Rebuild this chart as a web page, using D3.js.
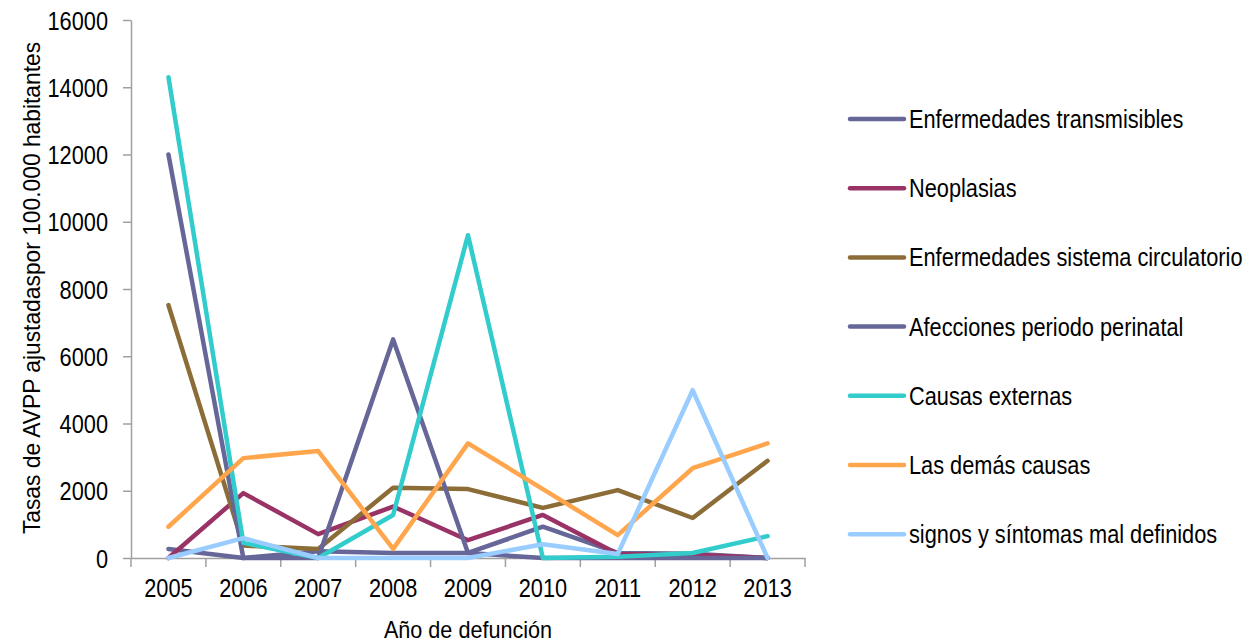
<!DOCTYPE html>
<html><head><meta charset="utf-8">
<script src="https://cdn.jsdelivr.net/npm/d3@7/dist/d3.min.js"></script>
<style>
body{margin:0;background:#fff;}
text{font-family:"Liberation Sans",Arial,sans-serif;fill:#000;}
</style></head><body>
<svg id="c" width="1260" height="643"></svg>
<script>
const years = ["2005","2006","2007","2008","2009","2010","2011","2012","2013"];
const yTicks = [0,2000,4000,6000,8000,10000,12000,14000,16000];
const seriesNames = ["Enfermedades transmisibles","Neoplasias","Enfermedades sistema circulatorio","Afecciones periodo perinatal","Causas externas","Las demás causas","signos y síntomas mal definidos"];
const seriesColors = ["#666699","#993366","#8C6D38","#666699","#33CCCC","#FFA64D","#99CCFF"];
const transmisibles = [270,0,200,150,150,930,150,130,0];
const neoplasias = [0,1930,710,1530,530,1280,120,100,0];
const circulatorio = [7520,370,270,2090,2050,1490,2020,1190,2890];
const perinatal = [12000,0,0,6500,150,0,0,0,0];
const externas = [14300,450,0,1280,9600,0,40,150,650];
const demas = [930,2970,3180,270,3410,2050,680,2670,3410];
const signos = [0,590,0,0,0,410,120,4990,0];
const allSeries = [transmisibles,neoplasias,circulatorio,perinatal,externas,demas,signos];

const svg = d3.select("#c");
const x = d3.scaleBand().domain(years).range([131,805]);
const y = d3.scaleLinear().domain([0,16000]).range([558,20]);

function condense(sel, k){
  sel.each(function(){
    const w = this.getComputedTextLength();
    d3.select(this).attr("textLength", w*k).attr("lengthAdjust","spacingAndGlyphs");
  });
}

// y axis
const ya = svg.append("g").attr("transform","translate(131,0)")
  .call(d3.axisLeft(y).tickValues(yTicks).tickSize(8).tickSizeOuter(0).tickFormat(d3.format("d")));
ya.selectAll("path,line").attr("stroke","#a0a0a0").attr("stroke-width",1.5);
ya.selectAll("text").attr("font-size",25).attr("x",-23).attr("dy","0.36em").attr("fill","#000")
  .style("font-family",'"Liberation Sans",Arial,sans-serif');
condense(ya.selectAll("text"),0.87);

// x axis
const xa = svg.append("g").attr("transform","translate(0,558)")
  .call(d3.axisBottom(x).tickSize(0).tickSizeOuter(0));
xa.select("path").attr("stroke","#a0a0a0").attr("stroke-width",1.5);
xa.selectAll("text").attr("font-size",25).attr("y",21).attr("dy","0.71em").attr("fill","#000")
  .style("font-family",'"Liberation Sans",Arial,sans-serif');
condense(xa.selectAll("text"),0.87);
const bounds = years.map(d=>x(d)).concat([x.range()[1]]);
svg.append("g").selectAll("line").data(bounds).join("line")
  .attr("x1",d=>d).attr("x2",d=>d).attr("y1",558).attr("y2",567)
  .attr("stroke","#a0a0a0").attr("stroke-width",1.5);

// lines
const line = d3.line().x((d,i)=>x(years[i])+x.bandwidth()/2).y(d=>y(d));
svg.append("g").selectAll("path").data(allSeries).join("path")
  .attr("d",d=>line(d)).attr("fill","none")
  .attr("stroke",(d,i)=>seriesColors[i]).attr("stroke-width",4.5)
  .attr("stroke-linejoin","round").attr("stroke-linecap","round");

// axis titles
const xt = svg.append("text").attr("x",468).attr("y",638).attr("text-anchor","middle")
  .attr("font-size",24).text("Año de defunción");
condense(xt,0.9);
const yt = svg.append("text").attr("transform","translate(40,288) rotate(-90)").attr("text-anchor","middle")
  .attr("font-size",24).text("Tasas de AVPP ajustadaspor 100.000 habitantes");
condense(yt,0.95);

// legend
const lg = svg.append("g").selectAll("g").data(seriesNames).join("g")
  .attr("transform",(d,i)=>`translate(850,${119+i*69.2})`);
lg.append("line").attr("x1",0).attr("x2",54).attr("y1",0).attr("y2",0)
  .attr("stroke",(d,i)=>seriesColors[i]).attr("stroke-width",4.5).attr("stroke-linecap","round");
lg.append("text").attr("transform","translate(59,0) scale(0.87,1)")
  .attr("dy","0.36em").attr("font-size",25).text(d=>d);
</script></body></html>
